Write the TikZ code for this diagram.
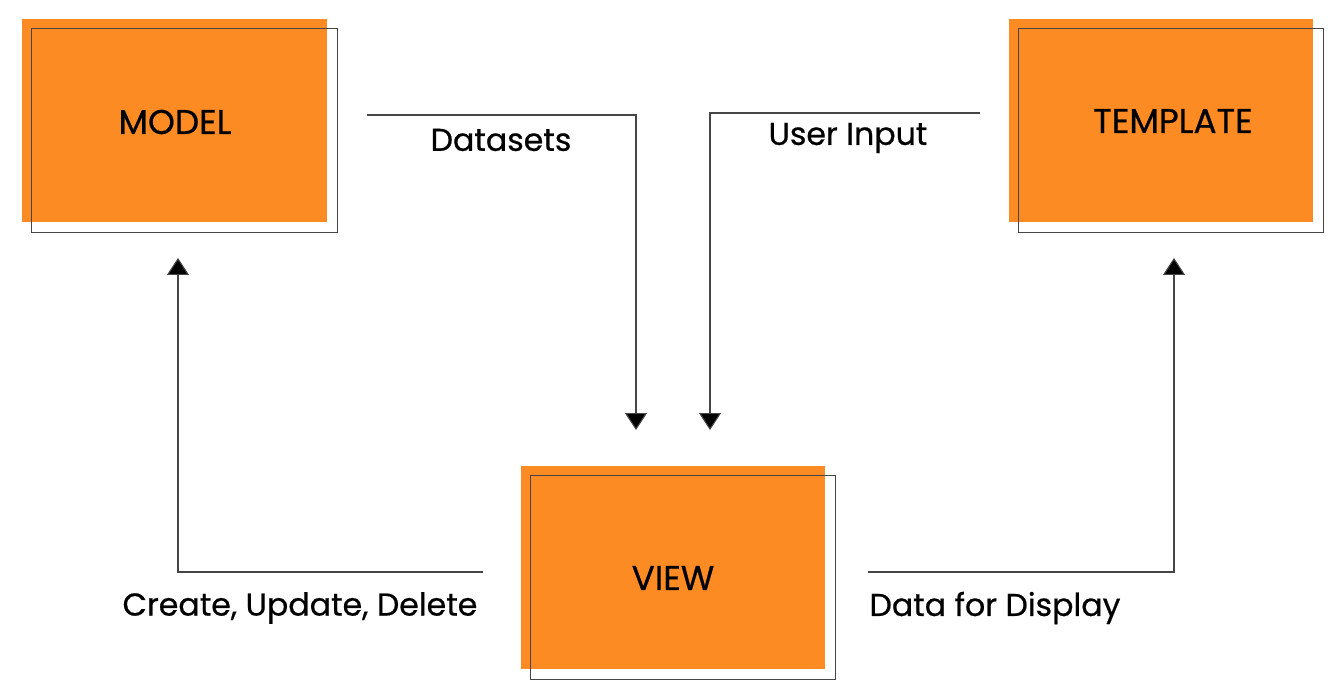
\documentclass[tikz,border=0pt]{standalone}
\usepackage{fontspec}
\setmainfont{Poppins}[FakeBold=0.6]
\usetikzlibrary{arrows.meta,positioning}
\definecolor{mvtorange}{RGB}{251,139,34}
\definecolor{mvtline}{RGB}{70,70,70}

\begin{document}
\begin{tikzpicture}[x=0.02cm,y=-0.02cm,
	block/.style={fill=mvtorange, minimum width=6.1cm, minimum height=4.06cm, inner sep=0pt},
	blocktxt/.style={font=\fontsize{19.5}{22}\selectfont, inner sep=0pt},
	frame/.style={draw=mvtline, line width=0.7pt},
	flow/.style={draw=mvtline, line width=0.6pt, -{Triangle[width=0.44cm,length=0.34cm,fill=black]}},
	lbl/.style={font=\fontsize{18}{21}\selectfont, inner sep=0pt}]
			
			\useasboundingbox (0,0) rectangle (1340,699);
			
			\node[block] (model) at (174.5,120.5) {};
			\node[block] (template) at (1161,120.5) {};
			\node[block] (view) at (673,567.5) {};
			
			\draw[frame] ([xshift=0.2cm,yshift=-0.2cm]model.south west) rectangle ([xshift=0.2cm,yshift=-0.2cm]model.north east);
			\draw[frame] ([xshift=0.2cm,yshift=-0.2cm]template.south west) rectangle ([xshift=0.2cm,yshift=-0.2cm]template.north east);
			\draw[frame] ([xshift=0.2cm,yshift=-0.2cm]view.south west) rectangle ([xshift=0.2cm,yshift=-0.2cm]view.north east);
			
			\node[blocktxt] (modeltxt) at (175,122) {MODEL};
			\node[blocktxt] (templatetxt) at (1173,121) {TEMPLATE};
			\node[blocktxt] (viewtxt) at (673,578) {VIEW};
			
			\coordinate (ds) at (367,115);
			\coordinate (dsend) at (636,430);
			\coordinate (ui) at (980,113);
			\coordinate (uiend) at (710,430);
			\coordinate (cud) at (483,572);
			\coordinate (cudend) at (178,258);
			\coordinate (dfd) at (868,572);
			\coordinate (dfdend) at (1174,258);
			
			\draw[flow] (ds) -| (dsend);
			\draw[flow] (ui) -| (uiend);
			\draw[flow] (cud) -| (cudend);
			\draw[flow] (dfd) -| (dfdend);
			
			\node[lbl] (dslbl) at (501,140) {Datasets};
			\node[lbl] (uilbl) at (848,138) {User Input};
			\node[lbl] (cudlbl) at (300,608) {Create, Update, Delete};
			\node[lbl] (dfdlbl) at (995,608) {Data for Display};
			
\end{tikzpicture}
\end{document}
